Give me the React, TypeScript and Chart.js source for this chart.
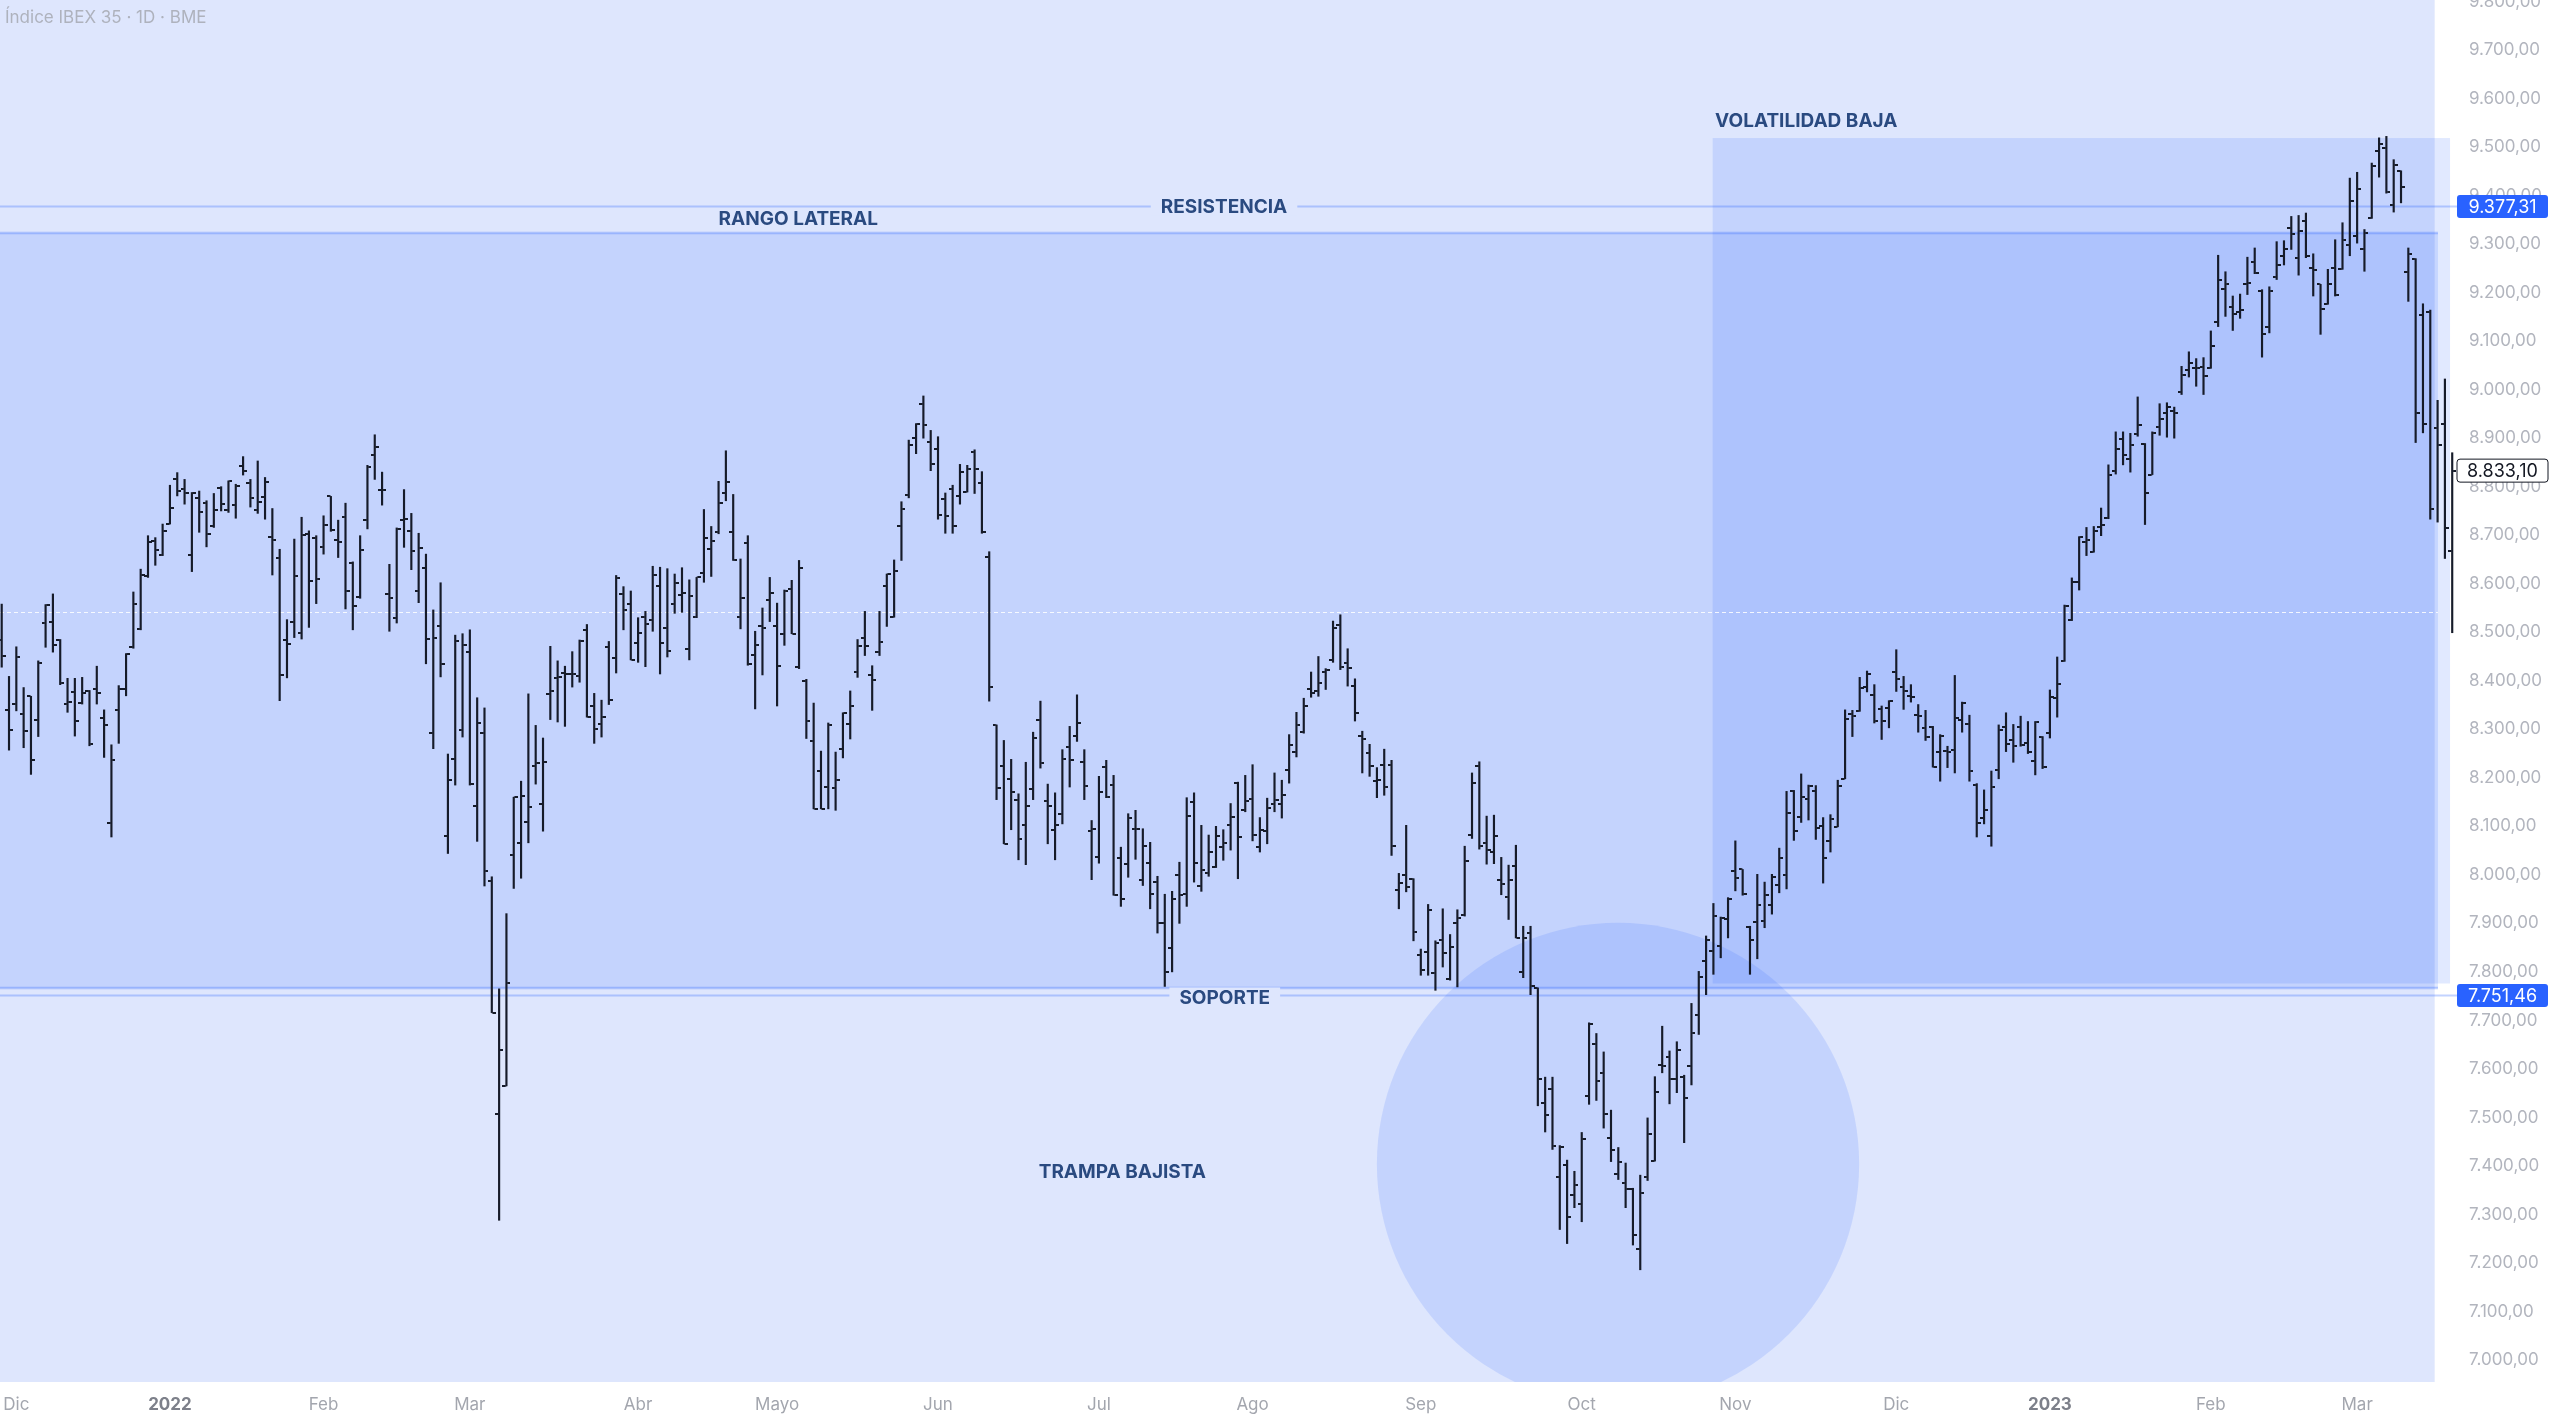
import { useEffect, useRef } from "react";
import { Chart, registerables } from "chart.js";

Chart.register(...registerables);

// ---------- data (daily OHLC, Índice IBEX 35) ----------
const OPEN = [
  8483, 8340, 8352, 8331, 8368, 8319, 8519, 8522, 8485, 8352, 8376, 8354, 8379, 8382, 8323, 8107, 8340, 8384, 8470, 8507,
  8615, 8688, 8660, 8724, 8815, 8795, 8660, 8776, 8767, 8719, 8798, 8752, 8763, 8843, 8807, 8752, 8778, 8697, 8654, 8483,
  8522, 8498, 8702, 8694, 8675, 8780, 8690, 8737, 8643, 8572, 8731, 8866, 8794, 8578, 8529, 8731, 8708, 8586, 8632, 8292,
  8513, 8080, 8238, 8298, 8459, 8142, 8292, 7988, 7507, 7565, 8040, 8066, 8109, 8225, 8146, 8373, 8405, 8416, 8414, 8410,
  8505, 8347, 8311, 8470, 8447, 8579, 8558, 8477, 8531, 8526, 8596, 8508, 8558, 8577, 8466, 8531, 8622, 8672, 8707, 8788,
  8707, 8531, 8683, 8454, 8512, 8567, 8512, 8497, 8589, 8429, 8399, 8275, 8215, 8182, 8179, 8259, 8311, 8419, 8488, 8411,
  8460, 8596, 8532, 8719, 8782, 8900, 8970, 8893, 8877, 8774, 8795, 8780, 8789, 8872, 8807, 8656, 8308, 8224, 8198, 8154,
  8102, 8177, 8319, 8153, 8093, 8126, 8263, 8287, 8232, 8091, 8036, 8223, 8186, 8035, 8023, 8095, 7990, 8024, 7986, 7900,
  7850, 7999, 7960, 8151, 7977, 8004, 8016, 8058, 8102, 8190, 8134, 8157, 8057, 8090, 8145, 8147, 8217, 8254, 8294, 8382,
  8379, 8419, 8443, 8515, 8436, 8390, 8287, 8251, 8193, 8227, 8227, 7968, 8000, 7991, 7834, 7840, 7798, 7865, 7786, 7900,
  7917, 8083, 8224, 8066, 8047, 7990, 7954, 8018, 7800, 7880, 7767, 7529, 7559, 7377, 7402, 7341, 7322, 7544, 7651, 7591,
  7458, 7384, 7365, 7353, 7228, 7377, 7410, 7608, 7625, 7580, 7583, 7607, 7712, 7823, 7843, 7853, 7910, 8007, 8011, 7893,
  7903, 7905, 7937, 7979, 7999, 8173, 8120, 8157, 8172, 8100, 8070, 8099, 8198, 8332, 8337, 8387, 8371, 8342, 8344, 8419,
  8387, 8368, 8329, 8303, 8305, 8253, 8256, 8258, 8320, 8310, 8186, 8117, 8081, 8217, 8305, 8278, 8305, 8272, 8234, 8285,
  8292, 8364, 8440, 8526, 8603, 8687, 8666, 8716, 8735, 8833, 8898, 8858, 8908, 8889, 8825, 8923, 8951, 8956, 8996, 9040,
  9044, 9047, 9044, 9139, 9208, 9170, 9160, 9217, 9263, 9203, 9129, 9232, 9275, 9333, 9272, 9347, 9251, 9217, 9177, 9251,
  9249, 9298, 9316, 9289, 9353, 9491, 9498, 9381, 9450, 9242, 9270, 9153, 9160, 8920, 8930, 8668,
];
const HIGH = [
  8558, 8409, 8470, 8386, 8368, 8441, 8557, 8579, 8485, 8405, 8405, 8407, 8380, 8430, 8340, 8268, 8390, 8456, 8583, 8630,
  8699, 8695, 8723, 8803, 8829, 8815, 8788, 8791, 8771, 8786, 8800, 8812, 8805, 8862, 8815, 8853, 8819, 8755, 8671, 8526,
  8692, 8737, 8709, 8699, 8740, 8780, 8731, 8766, 8645, 8699, 8844, 8907, 8830, 8640, 8715, 8794, 8745, 8704, 8661, 8546,
  8602, 8249, 8494, 8497, 8505, 8365, 8344, 7996, 7765, 7920, 8160, 8193, 8373, 8308, 8282, 8471, 8441, 8430, 8460, 8484,
  8516, 8374, 8360, 8481, 8617, 8594, 8585, 8530, 8543, 8636, 8634, 8631, 8620, 8633, 8608, 8613, 8753, 8718, 8811, 8874,
  8784, 8651, 8699, 8502, 8550, 8613, 8560, 8587, 8607, 8648, 8403, 8354, 8255, 8313, 8253, 8334, 8379, 8485, 8543, 8431,
  8543, 8620, 8649, 8769, 8896, 8930, 8987, 8916, 8903, 8787, 8803, 8846, 8844, 8876, 8831, 8666, 8309, 8277, 8238, 8167,
  8232, 8294, 8358, 8187, 8169, 8258, 8306, 8371, 8258, 8112, 8203, 8236, 8205, 8057, 8126, 8133, 8095, 8067, 7997, 7960,
  7966, 8026, 8159, 8169, 8102, 8082, 8100, 8093, 8147, 8191, 8205, 8227, 8118, 8158, 8210, 8195, 8289, 8335, 8364, 8418,
  8450, 8425, 8523, 8536, 8466, 8404, 8296, 8269, 8221, 8259, 8236, 8003, 8102, 7992, 7847, 7939, 7864, 7930, 7877, 7928,
  8059, 8210, 8233, 8121, 8123, 8036, 8020, 8061, 7894, 7894, 7767, 7583, 7583, 7442, 7412, 7389, 7469, 7695, 7673, 7635,
  7515, 7438, 7406, 7354, 7381, 7499, 7584, 7688, 7637, 7656, 7587, 7735, 7801, 7874, 7941, 7913, 7953, 8070, 8011, 7894,
  8001, 7985, 8001, 8055, 8172, 8174, 8208, 8185, 8184, 8118, 8124, 8195, 8340, 8339, 8407, 8420, 8392, 8348, 8359, 8464,
  8409, 8392, 8351, 8339, 8306, 8289, 8265, 8411, 8356, 8329, 8188, 8175, 8214, 8309, 8334, 8310, 8327, 8316, 8316, 8285,
  8381, 8449, 8556, 8612, 8697, 8716, 8718, 8756, 8845, 8913, 8913, 8910, 8985, 8889, 8913, 8971, 8973, 8964, 9048, 9078,
  9064, 9066, 9121, 9277, 9243, 9193, 9197, 9273, 9292, 9206, 9212, 9305, 9307, 9357, 9359, 9364, 9280, 9217, 9248, 9309,
  9344, 9436, 9448, 9330, 9467, 9519, 9522, 9474, 9451, 9292, 9270, 9177, 9164, 8978, 9022, 8870,
];
const LOW = [
  8428, 8257, 8338, 8262, 8207, 8285, 8469, 8459, 8392, 8335, 8286, 8352, 8266, 8352, 8242, 8078, 8271, 8369, 8467, 8505,
  8613, 8638, 8658, 8723, 8781, 8764, 8625, 8706, 8676, 8716, 8750, 8747, 8735, 8824, 8758, 8745, 8733, 8618, 8359, 8406,
  8489, 8486, 8510, 8559, 8661, 8708, 8654, 8548, 8505, 8570, 8713, 8815, 8762, 8502, 8519, 8675, 8629, 8561, 8435, 8260,
  8408, 8044, 8185, 8284, 8185, 8069, 7977, 7716, 7288, 7565, 7972, 7993, 8066, 8187, 8090, 8320, 8315, 8306, 8387, 8397,
  8325, 8271, 8284, 8351, 8416, 8505, 8443, 8438, 8429, 8502, 8414, 8449, 8539, 8541, 8443, 8530, 8603, 8615, 8703, 8771,
  8648, 8507, 8432, 8342, 8412, 8522, 8348, 8473, 8497, 8425, 8281, 8136, 8136, 8136, 8133, 8241, 8280, 8407, 8452, 8339,
  8452, 8512, 8531, 8648, 8777, 8868, 8900, 8833, 8733, 8704, 8704, 8764, 8789, 8786, 8704, 8358, 8155, 8064, 8093, 8031,
  8021, 8155, 8220, 8064, 8031, 8105, 8181, 8275, 8155, 7990, 8024, 8159, 7958, 7935, 7995, 8032, 7978, 7930, 7880, 7770,
  7800, 7900, 7935, 7985, 7966, 7997, 8015, 8030, 8051, 7992, 8130, 8070, 8047, 8064, 8130, 8117, 8189, 8243, 8292, 8366,
  8368, 8382, 8438, 8423, 8389, 8317, 8210, 8203, 8159, 8164, 8040, 7930, 7965, 7864, 7793, 7793, 7762, 7810, 7783, 7769,
  7915, 8075, 8053, 8022, 8023, 7959, 7908, 7870, 7788, 7753, 7524, 7470, 7434, 7269, 7240, 7314, 7285, 7527, 7535, 7478,
  7409, 7372, 7314, 7237, 7186, 7370, 7410, 7592, 7528, 7551, 7448, 7567, 7671, 7753, 7795, 7829, 7870, 7967, 7958, 7795,
  7827, 7891, 7919, 7963, 7971, 8071, 8108, 8113, 8073, 7983, 8047, 8099, 8198, 8285, 8337, 8377, 8313, 8279, 8303, 8378,
  8341, 8356, 8294, 8277, 8222, 8193, 8221, 8210, 8294, 8193, 8078, 8105, 8059, 8198, 8254, 8232, 8265, 8250, 8206, 8219,
  8282, 8325, 8440, 8524, 8587, 8658, 8665, 8699, 8734, 8826, 8845, 8830, 8904, 8722, 8825, 8906, 8902, 8900, 8990, 9026,
  9007, 8990, 9044, 9130, 9151, 9122, 9147, 9196, 9239, 9067, 9117, 9227, 9257, 9289, 9236, 9272, 9193, 9114, 9176, 9193,
  9248, 9276, 9302, 9244, 9353, 9438, 9405, 9366, 9385, 9182, 8891, 8911, 8733, 8727, 8652, 8499,
];
const CLOSE = [
  8451, 8299, 8448, 8297, 8237, 8436, 8556, 8474, 8395, 8356, 8317, 8375, 8270, 8375, 8308, 8237, 8383, 8455, 8559, 8618,
  8685, 8669, 8709, 8757, 8791, 8786, 8786, 8748, 8702, 8752, 8765, 8812, 8802, 8833, 8776, 8769, 8810, 8690, 8412, 8476,
  8615, 8701, 8605, 8610, 8721, 8710, 8686, 8584, 8554, 8670, 8841, 8882, 8794, 8570, 8713, 8733, 8667, 8674, 8486, 8489,
  8435, 8195, 8481, 8473, 8187, 8313, 8008, 7716, 7638, 7778, 8160, 8163, 8139, 8231, 8233, 8378, 8408, 8414, 8414, 8481,
  8325, 8300, 8325, 8361, 8611, 8546, 8443, 8499, 8516, 8618, 8478, 8462, 8602, 8580, 8574, 8613, 8694, 8689, 8766, 8810,
  8649, 8570, 8435, 8474, 8508, 8580, 8431, 8586, 8497, 8632, 8318, 8136, 8136, 8309, 8196, 8333, 8349, 8471, 8471, 8402,
  8480, 8620, 8626, 8755, 8886, 8929, 8927, 8846, 8741, 8739, 8718, 8831, 8837, 8836, 8706, 8387, 8179, 8064, 8170, 8073,
  8141, 8281, 8231, 8141, 8103, 8239, 8237, 8313, 8184, 8095, 8170, 8160, 7958, 7950, 8117, 8095, 8060, 7960, 7900, 7800,
  7950, 7959, 8122, 8025, 8009, 8047, 8081, 8065, 8119, 8079, 8152, 8082, 8093, 8138, 8155, 8164, 8268, 8308, 8348, 8375,
  8395, 8423, 8508, 8429, 8427, 8333, 8279, 8224, 8196, 8182, 8059, 7984, 7975, 7882, 7803, 7927, 7860, 7838, 7852, 7912,
  8029, 8190, 8059, 8052, 8081, 7981, 7989, 7870, 7869, 7771, 7579, 7504, 7442, 7440, 7294, 7360, 7456, 7693, 7575, 7507,
  7432, 7409, 7353, 7257, 7344, 7465, 7552, 7605, 7579, 7640, 7541, 7675, 7789, 7866, 7915, 7911, 7951, 7994, 7961, 7865,
  7938, 7958, 7995, 8034, 8128, 8091, 8161, 8184, 8097, 8035, 8115, 8184, 8322, 8327, 8385, 8413, 8318, 8318, 8358, 8404,
  8379, 8366, 8327, 8285, 8222, 8286, 8254, 8324, 8354, 8214, 8107, 8133, 8181, 8299, 8269, 8265, 8267, 8254, 8315, 8222,
  8366, 8394, 8555, 8603, 8696, 8690, 8709, 8722, 8825, 8878, 8865, 8886, 8928, 8788, 8911, 8939, 8964, 8952, 9030, 9055,
  9044, 9028, 9091, 9225, 9218, 9155, 9165, 9220, 9241, 9114, 9204, 9256, 9289, 9321, 9328, 9275, 9246, 9167, 9217, 9196,
  9309, 9388, 9414, 9322, 9460, 9506, 9407, 9462, 9417, 9280, 8952, 8930, 8753, 8885, 8714, 8833.1,
];

// x-axis: first bar index of each month and its label
const MONTH_START_INDEX = [2, 23, 44, 64, 87, 106, 128, 150, 171, 194, 216, 237, 259, 280, 302, 322];
const MONTH_LABELS = ["Dic", "2022", "Feb", "Mar", "Abr", "Mayo", "Jun", "Jul", "Ago", "Sep", "Oct", "Nov", "Dic", "2023", "Feb", "Mar"];

// y-axis price ticks
const PRICE_TICKS = [
  7000, 7100, 7200, 7300, 7400, 7500, 7600, 7700, 7800, 7900, 8000, 8100, 8200, 8300, 8400,
  8500, 8600, 8700, 8800, 8900, 9000, 9100, 9200, 9300, 9400, 9500, 9600, 9700, 9800,
];

// key levels
const RESISTANCE = 9377.31;
const SUPPORT = 7751.46;
const LAST_PRICE = 8833.1;
const DASHED_LEVEL = 8542;

// drawings (in bar index / price units)
const RANGE_BOX = { x0: -2, x1: 333.05, top: 9322.8, bottom: 7766.7 };
const VOL_BOX = { x0: 233.9, x1: 334.7, top: 9518.6, bottom: 7776 };
const TRAP_CIRCLE = { x: 220.96, price: 7404, radiusPrice: 497 };
const PANE_END = 332.6;

const TITLE = "Índice IBEX 35 · 1D · BME";
const NOTES = [
  { text: "RANGO LATERAL", x: 108.9, price: 9351.7, gap: false, dy: 0 },
  { text: "RESISTENCIA", x: 167.1, price: RESISTANCE, gap: true, dy: 1 },
  { text: "SOPORTE", x: 167.2, price: SUPPORT, gap: true, dy: 3 },
  { text: "VOLATILIDAD BAJA", x: 246.7, price: 9553.6, gap: false, dy: 0 },
  { text: "TRAMPA BAJISTA", x: 153.2, price: 7389.5, gap: false, dy: 1 },
];

// ---------- style ----------
const FONT = "Inter, 'Noto Sans', sans-serif";
const BAR_COLOR = "#161b29";
const PANE_BG = "#dee6fd";
const ZONE_FILL = "rgba(41, 98, 255, 0.14)";
const ZONE_BORDER = "rgba(41, 98, 255, 0.28)";
const LEVEL_LINE = "rgba(41, 98, 255, 0.28)";
const NOTE_COLOR = "#2a4a80";
const AXIS_TEXT = "#b2b5be";
const XAXIS_TEXT = "#a3a6ae";
const TAG_BLUE = "#2962ff";

function fmtPrice(v: number): string {
  const s = Math.abs(v).toFixed(2);
  const [i, d] = s.split(".");
  return (v < 0 ? "-" : "") + i.replace(/\B(?=(\d{3})+(?!\d))/g, ".") + "," + d;
}

function roundRect(ctx: CanvasRenderingContext2D, x: number, y: number, w: number, h: number, r: number) {
  ctx.beginPath();
  ctx.moveTo(x + r, y);
  ctx.lineTo(x + w - r, y);
  ctx.quadraticCurveTo(x + w, y, x + w, y + r);
  ctx.lineTo(x + w, y + h - r);
  ctx.quadraticCurveTo(x + w, y + h, x + w - r, y + h);
  ctx.lineTo(x + r, y + h);
  ctx.quadraticCurveTo(x, y + h, x, y + h - r);
  ctx.lineTo(x, y + r);
  ctx.quadraticCurveTo(x, y, x + r, y);
  ctx.closePath();
}

const overlayPlugin = {
  id: "overlayPlugin",
  beforeDraw(chart: any) {
    const { ctx, chartArea: a } = chart;
    const x = chart.scales.x;
    ctx.save();
    ctx.fillStyle = "#ffffff";
    ctx.fillRect(0, 0, chart.width, chart.height);
    ctx.fillStyle = PANE_BG;
    const xe = x.getPixelForValue(PANE_END);
    ctx.fillRect(a.left, a.top, xe - a.left, a.bottom - a.top);
    ctx.restore();
  },
  beforeDatasetsDraw(chart: any) {
    const { ctx, chartArea: a } = chart;
    const x = chart.scales.x;
    const y = chart.scales.y;
    ctx.save();
    ctx.beginPath();
    ctx.rect(a.left, a.top, a.right - a.left, a.bottom - a.top);
    ctx.clip();

    // lateral range box
    const rx0 = x.getPixelForValue(RANGE_BOX.x0);
    const rx1 = x.getPixelForValue(RANGE_BOX.x1);
    const ry0 = y.getPixelForValue(RANGE_BOX.top);
    const ry1 = y.getPixelForValue(RANGE_BOX.bottom);
    ctx.fillStyle = ZONE_FILL;
    ctx.fillRect(rx0, ry0, rx1 - rx0, ry1 - ry0);

    // low volatility box
    const vx0 = x.getPixelForValue(VOL_BOX.x0);
    const vx1 = x.getPixelForValue(VOL_BOX.x1);
    const vy0 = y.getPixelForValue(VOL_BOX.top);
    const vy1 = y.getPixelForValue(VOL_BOX.bottom);
    ctx.fillRect(vx0, vy0, vx1 - vx0, vy1 - vy0);

    // bear trap circle
    const cx = x.getPixelForValue(TRAP_CIRCLE.x);
    const cy = y.getPixelForValue(TRAP_CIRCLE.price);
    const r = Math.abs(y.getPixelForValue(TRAP_CIRCLE.price + TRAP_CIRCLE.radiusPrice) - cy);
    ctx.beginPath();
    ctx.arc(cx, cy, r, 0, Math.PI * 2);
    ctx.fill();

    // range borders
    ctx.strokeStyle = ZONE_BORDER;
    ctx.lineWidth = 2.5;
    ctx.beginPath();
    ctx.moveTo(rx0, ry0);
    ctx.lineTo(rx1, ry0);
    ctx.moveTo(rx0, ry1);
    ctx.lineTo(rx1, ry1);
    ctx.stroke();

    // dashed level
    ctx.strokeStyle = "rgba(255,255,255,0.85)";
    ctx.lineWidth = 1;
    ctx.setLineDash([4, 3]);
    const dy = Math.round(y.getPixelForValue(DASHED_LEVEL)) + 0.5;
    ctx.beginPath();
    ctx.moveTo(a.left, dy);
    ctx.lineTo(x.getPixelForValue(RANGE_BOX.x1), dy);
    ctx.stroke();
    ctx.setLineDash([]);

    // support / resistance
    ctx.strokeStyle = LEVEL_LINE;
    ctx.lineWidth = 2;
    for (const lv of [RESISTANCE, SUPPORT]) {
      const py = y.getPixelForValue(lv);
      ctx.beginPath();
      ctx.moveTo(a.left, py);
      ctx.lineTo(a.right, py);
      ctx.stroke();
    }
    ctx.restore();
  },
  afterDatasetsDraw(chart: any) {
    const { ctx } = chart;
    const x = chart.scales.x;
    const y = chart.scales.y;
    ctx.save();
    ctx.font = `700 19px ${FONT}`;
    ctx.textAlign = "center";
    ctx.textBaseline = "middle";
    for (const n of NOTES) {
      const px = x.getPixelForValue(n.x);
      const py = y.getPixelForValue(n.price);
      const w = ctx.measureText(n.text).width;
      if (n.gap) {
        ctx.fillStyle = PANE_BG;
        ctx.fillRect(px - w / 2 - 10, py - 8, w + 20, 17);
      }
      ctx.fillStyle = NOTE_COLOR;
      ctx.fillText(n.text, px, py + n.dy);
    }

    // price tags on the axis
    const tagX = 2457;
    const tagW = 91;
    const tagH = 23;
    ctx.font = `18px ${FONT}`;
    for (const t of [
      { v: RESISTANCE, fill: TAG_BLUE, color: "#ffffff", border: null },
      { v: SUPPORT, fill: TAG_BLUE, color: "#ffffff", border: null },
      { v: LAST_PRICE, fill: "#ffffff", color: "#131722", border: "#131722" },
    ]) {
      const py = y.getPixelForValue(t.v);
      roundRect(ctx, tagX, py - tagH / 2, tagW, tagH, 3);
      ctx.fillStyle = t.fill;
      ctx.fill();
      if (t.border) {
        ctx.strokeStyle = t.border;
        ctx.lineWidth = 1;
        ctx.stroke();
      }
      ctx.fillStyle = t.color;
      ctx.textAlign = "center";
      ctx.fillText(fmtPrice(t.v), tagX + tagW / 2, py + 1);
    }

    // title
    ctx.font = `17px ${FONT}`;
    ctx.textAlign = "left";
    ctx.fillStyle = "#aeb2bd";
    ctx.fillText(TITLE, 5, 18);
    ctx.restore();
  },
};

export default function App() {
  const ref = useRef<HTMLCanvasElement>(null);

  useEffect(() => {
    const canvas = ref.current;
    if (!canvas) return;

    const mkTick = (left: boolean) => {
      const c = document.createElement("canvas");
      c.width = 8;
      c.height = 2;
      const g = c.getContext("2d")!;
      g.fillStyle = BAR_COLOR;
      g.fillRect(left ? 0 : 4.5, 0, 3.5, 2);
      return c;
    };
    const leftTick = mkTick(true);
    const rightTick = mkTick(false);

    const chart = new Chart(canvas, {
      type: "bar",
      data: {
        datasets: [
          {
            type: "bar",
            data: OPEN.map((_, i) => ({ x: i, y: [LOW[i], HIGH[i]] })) as any,
            backgroundColor: BAR_COLOR,
            borderWidth: 0,
            barThickness: 1.5,
            grouped: false,
          } as any,
          {
            type: "scatter",
            data: OPEN.map((v, i) => ({ x: i, y: v })),
            pointStyle: leftTick as any,
            pointRadius: 2,
          } as any,
          {
            type: "scatter",
            data: CLOSE.map((v, i) => ({ x: i, y: v })),
            pointStyle: rightTick as any,
            pointRadius: 2,
          } as any,
        ],
      },
      options: {
        responsive: false,
        devicePixelRatio: 1,
        animation: false,
        events: [],
        layout: { padding: 0, autoPadding: false } as any,
        plugins: {
          legend: { display: false },
          tooltip: { enabled: false },
          title: { display: false },
        },
        scales: {
          x: {
            type: "linear",
            min: -0.232,
            max: 335.79,
            offset: false,
            grid: { display: false, offset: false } as any,
            border: { display: false },
            afterBuildTicks: (s: any) => {
              s.ticks = MONTH_START_INDEX.map((v) => ({ value: v }));
            },
            afterFit: (s: any) => {
              s.height = 36;
              s.paddingLeft = 0;
              s.paddingRight = 0;
            },
            ticks: {
              autoSkip: false,
              maxRotation: 0,
              padding: 5,
              color: (c: any) => (/^\d{4}$/.test(MONTH_LABELS[c.index] || "") ? "#7d808a" : XAXIS_TEXT),
              font: (c: any) => ({
                family: FONT,
                size: 17,
                weight: /^\d{4}$/.test(MONTH_LABELS[c.index] || "") ? "bold" : "normal",
              }),
              callback: (_v: any, i: number) => MONTH_LABELS[i],
            },
          } as any,
          y: {
            type: "linear",
            position: "right",
            min: 6954.7,
            max: 9803.1,
            beginAtZero: false,
            grid: { display: false, drawTicks: false },
            border: { display: false },
            afterBuildTicks: (s: any) => {
              s.ticks = PRICE_TICKS.map((v) => ({ value: v }));
            },
            afterFit: (s: any) => {
              s.width = 102;
              s.paddingTop = 0;
              s.paddingBottom = 0;
            },
            ticks: {
              padding: 11,
              color: AXIS_TEXT,
              font: { family: FONT, size: 17 },
              callback: (v: any) => fmtPrice(Number(v)),
            },
          } as any,
        },
      },
      plugins: [overlayPlugin as any],
    });

    return () => chart.destroy();
  }, []);

  return (
    <div style={{ position: "fixed", left: 0, top: 0, width: 2560, height: 1418, background: "#ffffff" }}>
      <canvas ref={ref} width={2560} height={1418} style={{ display: "block", width: 2560, height: 1418 }} />
    </div>
  );
}
